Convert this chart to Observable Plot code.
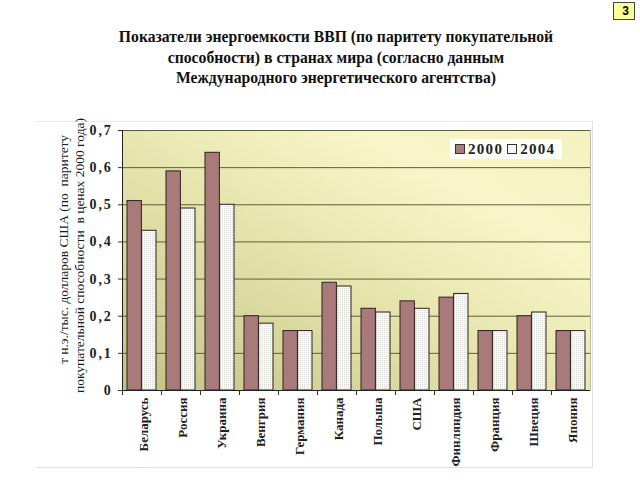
<!DOCTYPE html>
<html>
<head>
<meta charset="utf-8">
<script src="https://cdn.jsdelivr.net/npm/d3@7"></script>
<script src="https://cdn.jsdelivr.net/npm/@observablehq/plot@0.6"></script>
<style>
  html, body { margin: 0; padding: 0; background: #fff; }
  #wrap { position: relative; width: 640px; height: 480px; overflow: hidden; font-family: "Liberation Serif", "DejaVu Serif", serif; }
  #chart { position: absolute; left: 0; top: 0; }
  #title { position: absolute; left: 36px; width: 600px; top: 27px; text-align: center; font-weight: bold; font-size: 15.7px; line-height: 20.5px; color: #111; }
  #outer { position: absolute; left: 36px; top: 121px; width: 556px; height: 345px; border-top: 1px solid #ececec; border-right: 1px solid #e2e2e2; border-bottom: 1px solid #e2e2e2; }
  #legend { position: absolute; left: 450px; top: 139px; width: 112px; height: 20px; background: #fffffa; display: flex; align-items: center; font-weight: bold; font-size: 15px; letter-spacing: 1.3px; color: #222; }
  #legend .sw { display: inline-block; width: 8px; height: 8px; border: 1px solid #333; margin: 0 3px 0 5px; }
  #badge { position: absolute; left: 613px; top: 2px; width: 22px; height: 18px; background: #ffff99; border: 1px solid #444; font-family: Arial, "Liberation Sans", sans-serif; font-weight: bold; font-size: 12px; text-align: right; padding-right: 5px; box-sizing: border-box; line-height: 17px; }
  #chart g[aria-label="y-axis tick label"] text { letter-spacing: 1.8px; }
</style>
</head>
<body>
<div id="wrap">
  <div id="outer"></div>
  <div id="chart"></div>
  <div id="title">Показатели энергоемкости ВВП (по паритету покупательной<br>способности) в странах мира (согласно данным<br>Международного энергетического агентства)</div>
  <div id="legend"><span class="sw" style="background:#a87a7a"></span>2000<span class="sw" style="background:#f6f6f4;margin-left:4px"></span>2004</div>
  <div id="badge">3</div>
</div>
<script>
const countries = ["Беларусь","Россия","Украина","Венгрия","Германия","Канада","Польша","США","Финляндия","Франция","Швеция","Япония"];
const values2000 = [0.51,0.59,0.64,0.20,0.16,0.29,0.22,0.24,0.25,0.16,0.20,0.16];
const values2004 = [0.43,0.49,0.50,0.18,0.16,0.28,0.21,0.22,0.26,0.16,0.21,0.16];
const years = ["2000","2004"];
const yTicks = [0,0.1,0.2,0.3,0.4,0.5,0.6,0.7];
const yLabel1 = "т н.э./тыс. долларов США (по  паритету";
const yLabel2 = "покупательной способности  в ценах 2000 года)";

const rows2000 = countries.map((c,i)=>({country:c, year:years[0], value:values2000[i]}));
const rows2004 = countries.map((c,i)=>({country:c, year:years[1], value:values2004[i]}));

const W = 640, H = 480;
const mL = 122, mR = 50, mT = 130, mB = 90;
const padIn = 0.25, padOut = 0.125;
const step = (W - mL - mR) / (countries.length - padIn + 2*padOut);
const half = step * (1 - padIn) / 2;
const serif = "Liberation Serif";
const fmt = d => d === 0 ? "0" : d.toFixed(1).replace(".", ",");

const svg = Plot.plot({
  width: W, height: H,
  marginLeft: mL, marginRight: mR, marginTop: mT, marginBottom: mB,
  style: {background: "transparent", fontFamily: serif, color: "#222"},
  x: {domain: countries, paddingInner: padIn, paddingOuter: padOut, axis: null},
  y: {domain: [0, 0.7], axis: null},
  marks: [
    Plot.frame({fill: "url(#bgGrad)", stroke: "#bdbca0"}),
    Plot.gridY(yTicks, {stroke: "#5e5e3c", strokeOpacity: 1, strokeWidth: 1}),
    Plot.barY(rows2000, {x: "country", y: "value", fill: "#a87a7a", stroke: "#2e2020", strokeWidth: 1, insetLeft: 0, insetRight: half}),
    Plot.barY(rows2004, {x: "country", y: "value", fill: "url(#dots)", stroke: "#2e2020", strokeWidth: 1, insetLeft: half, insetRight: 0}),
    Plot.frame({anchor: "left", stroke: "#222"}),
    Plot.ruleY([0], {stroke: "#222"}),
    Plot.axisY(yTicks, {tickFormat: fmt, tickSize: 4, tickPadding: 6, fontSize: 14, fontWeight: "bold", fontFamily: serif, label: null, stroke: "#333"}),
    Plot.axisX({tickSize: 5, tickFormat: () => "", dx: -step/2, label: null, stroke: "#333"}),
    Plot.axisX({tickSize: 0, tickRotate: -90, tickPadding: 7, dx: 2, fontSize: 13, fontWeight: "bold", fontFamily: serif, label: null}),
    Plot.text([yLabel1], {text: d => d, frameAnchor: "left", textAnchor: "middle", rotate: -90, dx: -59, dy: -11, fontSize: 13.5, fontFamily: serif, fill: "#1a1a1a"}),
    Plot.text([yLabel2], {text: d => d, frameAnchor: "left", textAnchor: "middle", rotate: -90, dx: -43, dy: -5, fontSize: 13.5, fontFamily: serif, fill: "#1a1a1a"})
  ]
});

const ns = "http://www.w3.org/2000/svg";
const defs = document.createElementNS(ns, "defs");
defs.innerHTML = `
  <linearGradient id="bgGrad" x1="0" y1="1" x2="1" y2="0">
    <stop offset="0" stop-color="#c2c286"/>
    <stop offset="0.45" stop-color="#e6e4ac"/>
    <stop offset="0.75" stop-color="#f8f6c8"/>
    <stop offset="1" stop-color="#f4f2c0"/>
  </linearGradient>
  <pattern id="dots" width="2" height="2" patternUnits="userSpaceOnUse">
    <rect width="2" height="2" fill="#fbfbfa"/>
    <rect width="1" height="1" fill="#d9d9d6"/>
  </pattern>`;
svg.insertBefore(defs, svg.firstChild);
document.getElementById("chart").appendChild(svg);
</script>
</body>
</html>
